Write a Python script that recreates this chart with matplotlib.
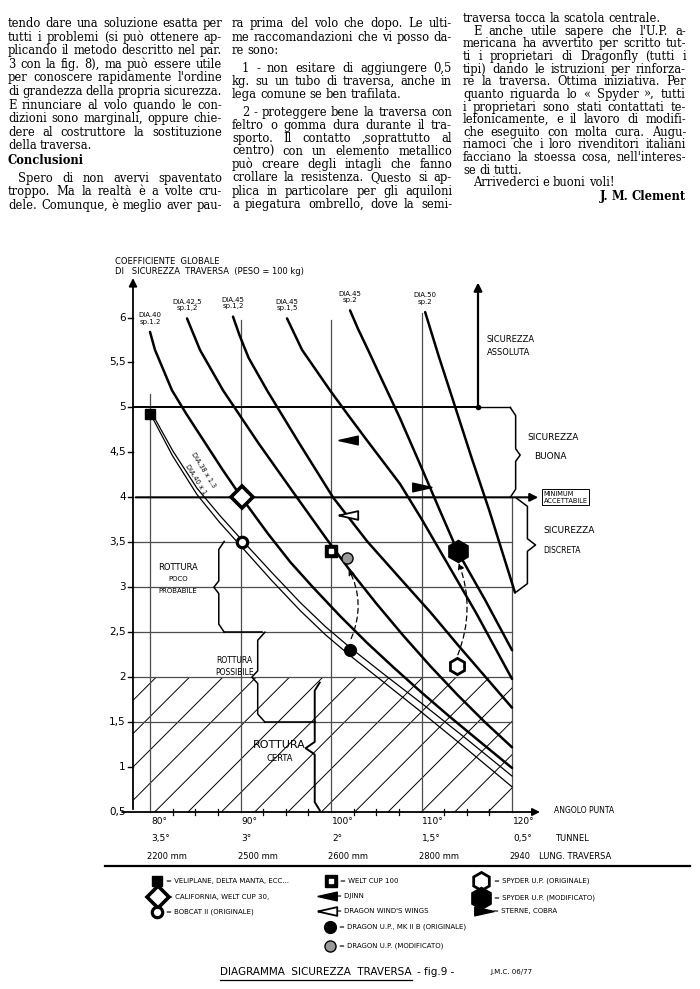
import matplotlib.pyplot as plt
from matplotlib.patches import Rectangle, FancyArrowPatch
from matplotlib.path import Path
from matplotlib.markers import MarkerStyle

W, H = 700, 989
SERIF = "DejaVu Serif"
HAND = "DejaVu Sans"

plt.rcParams.update({"font.family": HAND, "hatch.linewidth": 0.7, "hatch.color": "0.25"})

# ---------------- article text ----------------
col1 = ["tendo dare una soluzione esatta per",
        "tutti i problemi (si può ottenere ap-",
        "plicando il metodo descritto nel par.",
        "3 con la fig. 8), ma può essere utile",
        "per conoscere rapidamente l'ordine",
        "di grandezza della propria sicurezza.",
        "E rinunciare al volo quando le con-",
        "dizioni sono marginali, oppure chie-",
        "dere al costruttore la sostituzione",
        "della traversa."]
col1b = ["Spero di non avervi spaventato",
         "troppo. Ma la realtà è a volte cru-",
         "dele. Comunque, è meglio aver pau-"]
col2 = ["ra prima del volo che dopo. Le ulti-",
        "me raccomandazioni che vi posso da-",
        "re sono:",
        "1 - non esitare di aggiungere 0,5",
        "kg. su un tubo di traversa, anche in",
        "lega comune se ben trafilata.",
        "2 - proteggere bene la traversa con",
        "feltro o gomma dura durante il tra-",
        "sporto. Il contatto ,soprattutto al",
        "centro) con un elemento metallico",
        "può creare degli intagli che fanno",
        "crollare la resistenza. Questo si ap-",
        "plica in particolare per gli aquiloni",
        "a piegatura ombrello, dove la semi-"]
col2_y = [27, 41, 54, 72, 85, 98, 116, 129, 142, 155, 168, 181, 195, 208]
col2_indent = [3, 6]
col2_ragged = [2, 5]
col3 = ["traversa tocca la scatola centrale.",
        "E anche utile sapere che l'U.P. a-",
        "mericana ha avvertito per scritto tut-",
        "ti i proprietari di Dragonfly (tutti i",
        "tipi) dando le istruzioni per rinforza-",
        "re la traversa. Ottima iniziativa. Per",
        "quanto riguarda lo « Spyder », tutti",
        "i proprietari sono stati contattati te-",
        "lefonicamente, e il lavoro di modifi-",
        "che eseguito con molta cura. Augu-",
        "riamoci che i loro rivenditori italiani",
        "facciano la stoessa cosa, nell'interes-",
        "se di tutti.",
        "Arrivederci e buoni voli!"]

# ---------------- chart data ----------------
angles = [80, 90, 100, 110, 120]
angle_labels = ["80°", "90°", "100°", "110°", "120°"]
tunnel_labels = ["3,5°", "3°", "2°", "1,5°", "0,5°"]
length_labels = ["2200 mm", "2500 mm", "2600 mm", "2800 mm", "2940"]
grid_tops = [5.15, 5.97, 5.97, 6.05, 4.0]
y_ticks = [0.5, 1, 1.5, 2, 2.5, 3, 3.5, 4, 4.5, 5, 5.5, 6]
y_tick_labels = ["0,5", "1", "1,5", "2", "2,5", "3", "3,5", "4", "4,5", "5", "5,5", "6"]
minor_angles = [82.5, 85, 87.5, 92.5, 95, 97.5, 102.5, 105, 107.5, 112.5, 115, 117.5]

# thick tube curves (angle, coefficient)
c40_x = [80.0, 80.55, 82.43, 84.0, 86.0, 88.0, 90.17, 93.0, 95.5, 98.0,
         101.0, 104.0, 107.0, 110.0, 113.0, 116.0, 120.0]
c40_y = [5.84, 5.64, 5.19, 4.93, 4.62, 4.31, 3.99, 3.60, 3.28, 3.00,
         2.68, 2.38, 2.10, 1.83, 1.57, 1.32, 0.99]
c425_x = [84.09, 85.52, 88.07, 90.0, 92.0, 95.8, 99.56, 102.0, 105.0,
          108.0, 111.0, 114.0, 117.0, 120.0]
c425_y = [5.99, 5.64, 5.19, 4.90, 4.60, 4.06, 3.53, 3.20, 2.82,
          2.46, 2.12, 1.80, 1.50, 1.22]
c45a_x = [89.17, 89.9, 90.9, 92.93, 96.5, 100.22, 104.0, 107.62, 111.0, 114.0,
          117.0, 120.0]
c45a_y = [6.01, 5.80, 5.55, 5.19, 4.60, 4.00, 3.51, 3.10, 2.72, 2.36,
          2.01, 1.66]
c45b_x = [95.14, 96.8, 99.89, 102.0, 104.0, 107.62, 110.0, 113.0, 116.0, 120.0]
c45b_y = [5.99, 5.64, 5.19, 4.90, 4.63, 4.15, 3.76, 3.24, 2.72, 1.98]
c45c_x = [102.1, 103.0, 104.09, 105.8, 107.62, 110.0, 112.0, 114.03, 117.02, 120.0]
c45c_y = [6.08, 5.87, 5.64, 5.27, 4.88, 4.33, 3.86, 3.39, 2.86, 2.30]
c50_x = [110.4, 111.9, 113.48, 115.5, 117.5, 120.33]
c50_y = [6.06, 5.57, 5.08, 4.45, 3.85, 2.94]
curves = [(c40_x, c40_y), (c425_x, c425_y), (c45a_x, c45a_y),
          (c45b_x, c45b_y), (c45c_x, c45c_y), (c50_x, c50_y)]
curve_labels = ["DIA.40\nsp.1.2", "DIA.42,5\nsp.1,2", "DIA.45\nsp.1,2",
                "DIA.45\nsp.1,5", "DIA.45\nsp.2", "DIA.50\nsp.2"]

# thin tube curves
t38_x = [80.3, 82.5, 85.2, 87.7, 90.2, 93.4, 96.6, 99.4, 102.1, 106.0, 110.0, 115.0, 120.0]
t38_y = [4.92, 4.52, 4.10, 3.80, 3.52, 3.17, 2.83, 2.56, 2.33, 2.02, 1.71, 1.31, 0.90]
t40_x = [80.3, 82.5, 85.2, 87.7, 90.2, 93.4, 96.6, 99.4, 102.1, 106.0, 110.0, 115.0, 120.0]
t40_y = [4.88, 4.46, 4.03, 3.72, 3.44, 3.08, 2.74, 2.47, 2.24, 1.93, 1.61, 1.20, 0.78]

# kites
veliplane = (80.0, 4.93)
california = (90.2, 4.0)
bobcat = (90.2, 3.5)
weltcup100 = (100.0, 3.40)
djinn = (101.9, 4.64)
windswings = (101.9, 3.80)
dragon_orig = (102.1, 2.30)
dragon_mod = (101.8, 3.33)
spyder_orig = (113.9, 2.12)
spyder_mod = (114.0, 3.40)
sterne = (110.0, 4.12)

fig = plt.figure(figsize=(7, 9.89), dpi=100)
fig.patch.set_facecolor("white")


def P(x, y):
    return x / W, 1 - y / H


renderer = fig.canvas.get_renderer()


def put_line(text, x0, x1, y, justify=True, size=8.3, weight="normal", align="left"):
    words = text.split()
    objs = [fig.text(0, 0, w, fontsize=size, family=SERIF, weight=weight, va="baseline")
            for w in words]
    ws = [o.get_window_extent(renderer).width for o in objs]
    if justify and len(words) > 1:
        gap = (x1 - x0 - sum(ws)) / (len(words) - 1)
    else:
        gap = size * 100 / 72 * 0.28
    total = sum(ws) + gap * (len(words) - 1)
    x = x0 if align == "left" else x1 - total
    for o, w in zip(objs, ws):
        o.set_position(P(x, y))
        x += w + gap


for i, line in enumerate(col1):
    put_line(line, 8, 222, 27 + 13.6 * i, justify=i < len(col1) - 1)
put_line("Conclusioni", 8, 222, 164, justify=False, weight="bold")
for i, line in enumerate(col1b):
    put_line(line, 18 if i == 0 else 8, 222, 182 + 13.4 * i)

for i, line in enumerate(col2):
    x0 = 242 if i in col2_indent else 232
    put_line(line, x0, 452, col2_y[i], justify=i not in col2_ragged)

for i, line in enumerate(col3):
    x0 = 473 if i in (1, 13) else 463
    put_line(line, x0, 686, 22 + 12.65 * i, justify=i not in (0, 12, 13))
put_line("J. M. Clement", 463, 686, 200, justify=False, weight="bold", align="right")

# ---------------- chart ----------------
ax = fig.add_axes([100 / W, 1 - 870 / H, 520 / W, 620 / H])
ax.set_xlim(74.475, 131.93)
ax.set_ylim(-0.145, 6.751)
ax.axis("off")

x_axis0 = 78.12
# hatched "rottura" zone
ax.add_patch(Rectangle((x_axis0, 0.5), 120 - x_axis0, 1.5, fill=False, hatch="/",
                       lw=0, zorder=1))

# grid
for a, top in zip(angles, grid_tops):
    ax.plot([a, a], [0.5, top], color="0.3", lw=0.9, zorder=2)
for v in [1.5, 2.0, 2.5, 3.0, 3.5]:
    ax.plot([x_axis0, 120], [v, v], color="0.3", lw=0.9, zorder=2)
ax.plot([x_axis0, 116.24], [5, 5], color="k", lw=1.4, zorder=2)
ax.plot([116.24, 119.8], [5, 5], color="k", lw=1.0, zorder=2)
ax.plot([116.24], [5], "o", color="k", ms=3, zorder=3)
ax.annotate("", xy=(123.2, 4.0), xytext=(x_axis0, 4.0),
            arrowprops=dict(arrowstyle="-|>", lw=1.5, color="k", mutation_scale=12))
ax.annotate("", xy=(116.24, 6.42), xytext=(116.24, 5.0),
            arrowprops=dict(arrowstyle="-|>", lw=1.6, color="k", mutation_scale=12))

# axes
ax.annotate("", xy=(x_axis0, 6.47), xytext=(x_axis0, 0.5),
            arrowprops=dict(arrowstyle="-|>", lw=1.3, color="k", mutation_scale=12))
ax.annotate("", xy=(123.4, 0.5), xytext=(76.6, 0.5),
            arrowprops=dict(arrowstyle="-|>", lw=1.3, color="k", mutation_scale=11))
for v, lab in zip(y_ticks, y_tick_labels):
    if v > 0.5:
        ax.plot([x_axis0 - 0.6, x_axis0], [v, v], color="k", lw=1)
    ax.text(x_axis0 - 0.8, v, lab, ha="right", va="center", fontsize=7.5)
for a in minor_angles:
    ax.plot([a, a], [0.47, 0.53], color="k", lw=0.9)
for a, l1, l2, l3 in zip(angles, angle_labels, tunnel_labels, length_labels):
    ax.text(a + 0.1, 0.40, l1, ha="left", va="center", fontsize=6.5)
    ax.text(a + 0.1, 0.21, l2, ha="left", va="center", fontsize=6.5)
    ax.text(a - 0.3, 0.01, l3, ha="left", va="center", fontsize=6)
ax.text(124.6, 0.52, "ANGOLO PUNTA", ha="left", va="center", fontsize=5.5)
ax.text(124.8, 0.21, "TUNNEL", ha="left", va="center", fontsize=6)
ax.text(123.0, 0.01, "LUNG. TRAVERSA", ha="left", va="center", fontsize=6)

# curves
for (cx, cy), lab in zip(curves, curve_labels):
    ax.plot(cx, cy, color="k", lw=1.8, zorder=4, solid_capstyle="round",
            solid_joinstyle="round")
    ax.text(cx[0], cy[0] + 0.08, lab, ha="center", va="bottom", fontsize=5,
            linespacing=1.1)
ax.plot(t38_x, t38_y, color="k", lw=0.9, zorder=4)
ax.plot(t40_x, t40_y, color="k", lw=0.9, zorder=4)
ax.text(85.9, 4.30, "DIA.38 x 1.3", rotation=-58, fontsize=4.8, ha="center", va="center")
ax.text(85.0, 4.20, "DIA.40 x 1", rotation=-58, fontsize=4.8, ha="center", va="center")


# braces
def brace(x, y0, y1, ym, tip, end, lw=1.1):
    c = 0.07
    xs = [x + end, x, x, x - tip, x, x, x + end]
    ys = [y1 + 0.02, y1 - c, ym + c, ym, ym - c, y0 + c, y0 - 0.02]
    ax.plot(xs, ys, color="k", lw=lw, zorder=5)


brace(87.6, 2.52, 3.49, 3.0, 0.55, 0.6)
ax.plot([88.2, 92.4], [2.5, 2.5], color="k", lw=1.1, zorder=5)
brace(91.9, 1.52, 2.48, 2.0, 0.65, 0.8)
ax.plot([92.7, 98.2], [1.5, 1.5], color="k", lw=1.1, zorder=5)
brace(98.2, 0.54, 1.92, 1.21, 1.0, 0.55, lw=1.4)
brace(120.4, 4.02, 4.98, 4.47, -0.5, -0.6)
brace(121.7, 2.97, 3.97, 3.47, -0.9, -1.2)

ax.text(83.1, 3.22, "ROTTURA", fontsize=6, ha="center", va="center")
ax.text(83.1, 3.09, "POCO", fontsize=5, ha="center", va="center")
ax.text(83.1, 2.96, "PROBABILE", fontsize=5, ha="center", va="center")
ax.text(89.3, 2.18, "ROTTURA", fontsize=5.5, ha="center", va="center")
ax.text(89.3, 2.05, "POSSIBILE", fontsize=5.5, ha="center", va="center")
ax.text(94.3, 1.25, "ROTTURA", fontsize=8, ha="center", va="center")
ax.text(94.3, 1.09, "CERTA", fontsize=6, ha="center", va="center")
ax.text(117.2, 5.75, "SICUREZZA", fontsize=6, ha="left", va="center")
ax.text(117.2, 5.61, "ASSOLUTA", fontsize=6, ha="left", va="center")
ax.text(121.7, 4.67, "SICUREZZA", fontsize=6.5, ha="left", va="center")
ax.text(122.4, 4.45, "BUONA", fontsize=6.5, ha="left", va="center")
ax.text(123.5, 3.63, "SICUREZZA", fontsize=6.5, ha="left", va="center")
ax.text(123.5, 3.41, "DISCRETA", fontsize=5.5, ha="left", va="center")
ax.text(123.5, 4.0, "MINIMUM\nACCETTABILE", fontsize=4.8, ha="left", va="center",
        linespacing=1.1, bbox=dict(boxstyle="square,pad=0.25", fc="white", ec="k", lw=0.7))

# markers
tri_left = MarkerStyle(Path([(-1, 0), (1, 0.45), (1, -0.45), (-1, 0)]))
tri_right = MarkerStyle(Path([(1, 0), (-1, 0.45), (-1, -0.45), (1, 0)]))


def kite(axx, xy, kind, scale=1.0):
    x, y = xy
    if kind == "square":
        axx.plot(x, y, "s", ms=7 * scale, color="k", zorder=6)
    elif kind == "diamond":
        axx.plot(x, y, "D", ms=11 * scale, mfc="white", mec="k", mew=2.6, zorder=6)
    elif kind == "circle":
        axx.plot(x, y, "o", ms=7.5 * scale, mfc="white", mec="k", mew=2.3, zorder=6)
    elif kind == "wsquare":
        axx.plot(x, y, "s", ms=8.5 * scale, color="k", zorder=6)
        axx.plot(x, y, "s", ms=3.5 * scale, color="white", zorder=7)
    elif kind == "ltri":
        axx.plot(x, y, marker=tri_left, ms=14 * scale, color="k", zorder=6)
    elif kind == "oltri":
        axx.plot(x, y, marker=tri_left, ms=14 * scale, mfc="white", mec="k", mew=1.3,
                 zorder=6)
    elif kind == "rtri":
        axx.plot(x, y, marker=tri_right, ms=14 * scale, color="k", zorder=6)
    elif kind == "dot":
        axx.plot(x, y, "o", ms=8.5 * scale, color="k", zorder=6)
    elif kind == "hatchdot":
        axx.plot(x, y, "o", ms=8 * scale, mfc="0.6", mec="k", mew=1.0, zorder=6)
    elif kind == "hex":
        axx.plot(x, y, "h", ms=13 * scale, mfc="white", mec="k", mew=2.0, zorder=6)
    elif kind == "fhex":
        axx.plot(x, y, "h", ms=16 * scale, color="k", zorder=6)


kite(ax, veliplane, "square")
kite(ax, california, "diamond")
kite(ax, bobcat, "circle")
kite(ax, weltcup100, "wsquare")
kite(ax, djinn, "ltri")
kite(ax, windswings, "oltri")
kite(ax, dragon_orig, "dot")
kite(ax, dragon_mod, "hatchdot")
kite(ax, spyder_orig, "hex", scale=0.9)
kite(ax, spyder_mod, "fhex")
kite(ax, sterne, "rtri")

for a, b, rad in [(dragon_orig, dragon_mod, 0.25), (spyder_orig, spyder_mod, 0.2)]:
    ax.add_patch(FancyArrowPatch((a[0], a[1] + 0.1), (b[0], b[1] - 0.1),
                                 connectionstyle=f"arc3,rad={rad}", arrowstyle="-|>",
                                 mutation_scale=9, ls=(0, (4, 3)), lw=0.9, color="k",
                                 zorder=5))

# axis title
fig.text(*P(115, 262), "COEFFICIENTE  GLOBALE", fontsize=6, va="center")
fig.text(*P(115, 272), "DI   SICUREZZA  TRAVERSA  (PESO = 100 kg)", fontsize=6, va="center")

# rule under scales
fig.add_artist(plt.Line2D([105 / W, 690 / W], [1 - 866 / H, 1 - 866 / H], color="k", lw=1.6))

# ---------------- legend ----------------
lax = fig.add_axes([0, 0, 1, 1], facecolor="none")
lax.set_xlim(0, W)
lax.set_ylim(H, 0)
lax.axis("off")
legend_items = [("square", (157, 881), "= VELIPLANE, DELTA MANTA, ECC..."),
                ("diamond", (158, 897), "= CALIFORNIA, WELT CUP 30,"),
                ("circle", (157, 912), "= BOBCAT II (ORIGINALE)"),
                ("wsquare", (331, 881), "= WELT CUP 100"),
                ("ltri", (327, 896), "= DJINN"),
                ("oltri", (327, 911), "= DRAGON WIND'S WINGS"),
                ("dot", (330, 927), "= DRAGON U.P., MK II B (ORIGINALE)"),
                ("hatchdot", (330, 946), "= DRAGON U.P. (MODIFICATO)"),
                ("hex", (481, 881), "= SPYDER U.P. (ORIGINALE)"),
                ("fhex", (481, 898), "= SPYDER U.P. (MODIFICATO)"),
                ("rtri", (484, 911), "= STERNE, COBRA")]
for kind, (lx, ly), lab in legend_items:
    kite(lax, (lx, ly), kind)
    lax.text(lx + (13 if kind in ("hex", "fhex") else 9), ly, lab, fontsize=5,
             va="center", ha="left")

fig.text(*P(220, 972), "DIAGRAMMA  SICUREZZA  TRAVERSA", fontsize=7.5, va="center")
fig.add_artist(plt.Line2D([220 / W, 412 / W], [1 - 980 / H, 1 - 980 / H], color="k", lw=0.9))
fig.text(*P(417, 972), "- fig.9 -", fontsize=7.5, va="center")
fig.text(*P(490, 972), "J.M.C. 06/77", fontsize=5, va="center")

fig.savefig("out.png", dpi=100)
